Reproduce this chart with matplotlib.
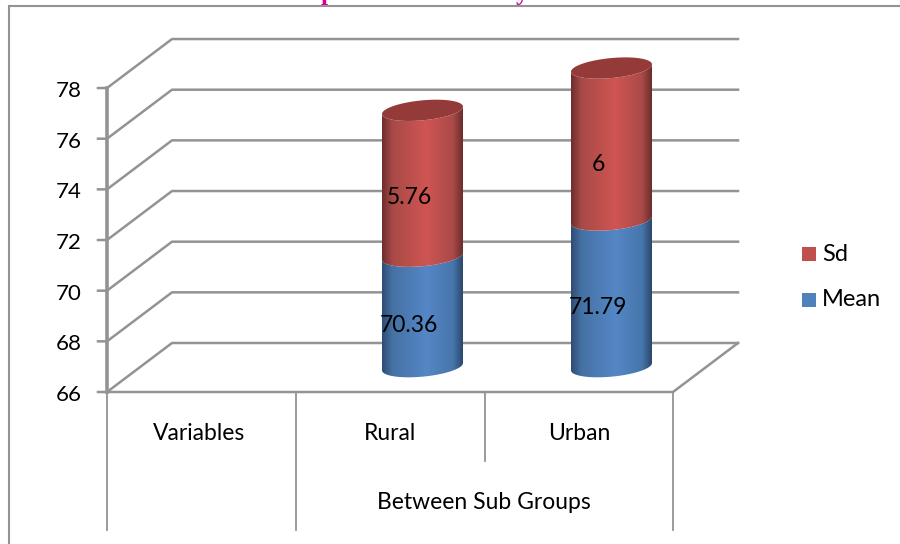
import numpy as np
from matplotlib import pyplot as plt
from matplotlib.colors import LinearSegmentedColormap
from matplotlib.patches import PathPatch, Polygon, Rectangle
from matplotlib.path import Path

plt.rcParams['font.family'] = ['Lato', 'DejaVu Sans']

categories = ['Variables', 'Rural', 'Urban']
group_label = 'Between Sub Groups'
mean_values = [70.36, 71.79]
sd_values = [5.76, 6]
mean_labels = ['70.36', '71.79']
sd_labels = ['5.76', '6']
y_ticks = [66, 68, 70, 72, 74, 76, 78]

GREY = '#939393'
PX = 25.33   # pixels per y unit
DEPTH_X, DEPTH_Y = 65, 49 / PX

fig = plt.figure(figsize=(9, 5.44), dpi=100)
ax = fig.add_axes([0, 0, 1, 1])
ax.set_xlim(0, 900)
ax.set_ylim(66 + (392 - 544) / PX, 66 + 392 / PX)
ax.axis('off')


def to_y(px):
    return 66 + (392 - px) / PX


# outer frame
ax.plot([9, 9, 900], [to_y(544), to_y(5.5), to_y(5.5)], color=GREY, lw=1.5, solid_joinstyle='miter')

# title is cut off by the top of the picture, only the tails of two letters show
ax.text(328, to_y(0), 'p', ha='center', va='baseline', fontsize=18, fontweight='bold',
        family='Liberation Serif', color='#d6009c')
ax.text(522, to_y(0), 'y', ha='center', va='baseline', fontsize=18, fontweight='bold',
        family='Liberation Serif', color='#d6009c')

# walls and grid
for v in y_ticks:
    ax.plot([98, 107, 107 + DEPTH_X, 738], [v, v, v + DEPTH_Y, v + DEPTH_Y], color=GREY, lw=1.8)
    ax.text(82, v - 3 / PX, str(v), ha='right', va='center', fontsize=16, color='black')
ax.plot([107, 107], [66, 78], color=GREY, lw=2.6)
ax.plot([107, 673, 673 + DEPTH_X], [66, 66, 66 + DEPTH_Y], color=GREY, lw=1.8)

# table under the axis
ax.plot([107, 107], [66, to_y(530)], color=GREY, lw=1.3)
ax.plot([296, 296], [66, to_y(530)], color=GREY, lw=1.3)
ax.plot([485, 485], [66, to_y(461)], color=GREY, lw=1.3)
ax.plot([673, 673], [66, to_y(530)], color=GREY, lw=1.3)
for x, label in zip([199, 390, 579], categories):
    ax.text(x, to_y(433), label, ha='center', va='center', fontsize=16.5)
ax.text(484, to_y(503), group_label, ha='center', va='center', fontsize=16.5)

stops = [0, 0.13, 0.55, 0.88, 1]
blue = LinearSegmentedColormap.from_list('b', list(zip(stops, ['#2f4c73', '#4572a5', '#5587c6', '#4676ab', '#2c476b'])))
red = LinearSegmentedColormap.from_list('r', list(zip(stops, ['#6e2d2c', '#a84a47', '#cf5552', '#a94a48', '#6b2c2b'])))


def rim(cx, y, t):
    hw, hh, shear = 40.5, 10 / PX, 0.09 / PX
    return cx + hw * np.cos(t), y + hh * np.sin(t) + shear * hw * np.cos(t)


def cylinder(cx, y0, y1, cmap):
    t_low = np.linspace(np.pi, 2 * np.pi, 60)
    x0, yy0 = rim(cx, y0, t_low)
    x1, yy1 = rim(cx, y1, t_low[::-1])
    verts = np.column_stack([np.r_[x0, x1], np.r_[yy0, yy1]])
    clip = PathPatch(Path(np.vstack([verts, verts[0]])), fc='none', ec='none', transform=ax.transData)
    ax.add_patch(clip)
    grad = np.linspace(0, 1, 256).reshape(1, -1)
    im = ax.imshow(grad, cmap=cmap, aspect='auto', zorder=3,
                   extent=[cx - 40.5, cx + 40.5, y0 - 1, y1 + 1])
    im.set_clip_path(clip)


# stacked cylinders, lifted off the front edge of the floor
lift = 1.0
for cx, mean, sd, m_lab, s_lab, s_drop in zip([422.5, 611.5], mean_values, sd_values,
                                              mean_labels, sd_labels, [14, 20]):
    base = 66 + lift
    mid = mean + lift
    top = mean + sd + lift
    cylinder(cx, base, mid, blue)
    cylinder(cx, mid, top, red)
    t = np.linspace(0, 2 * np.pi, 80)
    ex, ey = rim(cx, top, t)
    ax.add_patch(Polygon(np.column_stack([ex, ey]), fc='#943b39', ec='none', zorder=4))
    ax.text(cx - 13.5, (base + mid) / 2 - 14 / PX, m_lab, ha='center', va='center', fontsize=16.5, zorder=5)
    ax.text(cx - 13.5, (mid + top) / 2 - s_drop / PX, s_lab, ha='center', va='center', fontsize=16.5, zorder=5)

# legend
for y_px, col, label in [(254, '#c0504d', 'Sd'), (300, '#4f81bd', 'Mean')]:
    ax.add_patch(Rectangle((802, to_y(y_px + 7)), 14, 14 / PX, fc=col, ec='none'))
    ax.text(822, to_y(y_px), label, ha='left', va='center', fontsize=17)

ax.set_xlim(0, 900)
ax.set_ylim(66 + (392 - 544) / PX, 66 + 392 / PX)
fig.savefig('out.png', dpi=100)
